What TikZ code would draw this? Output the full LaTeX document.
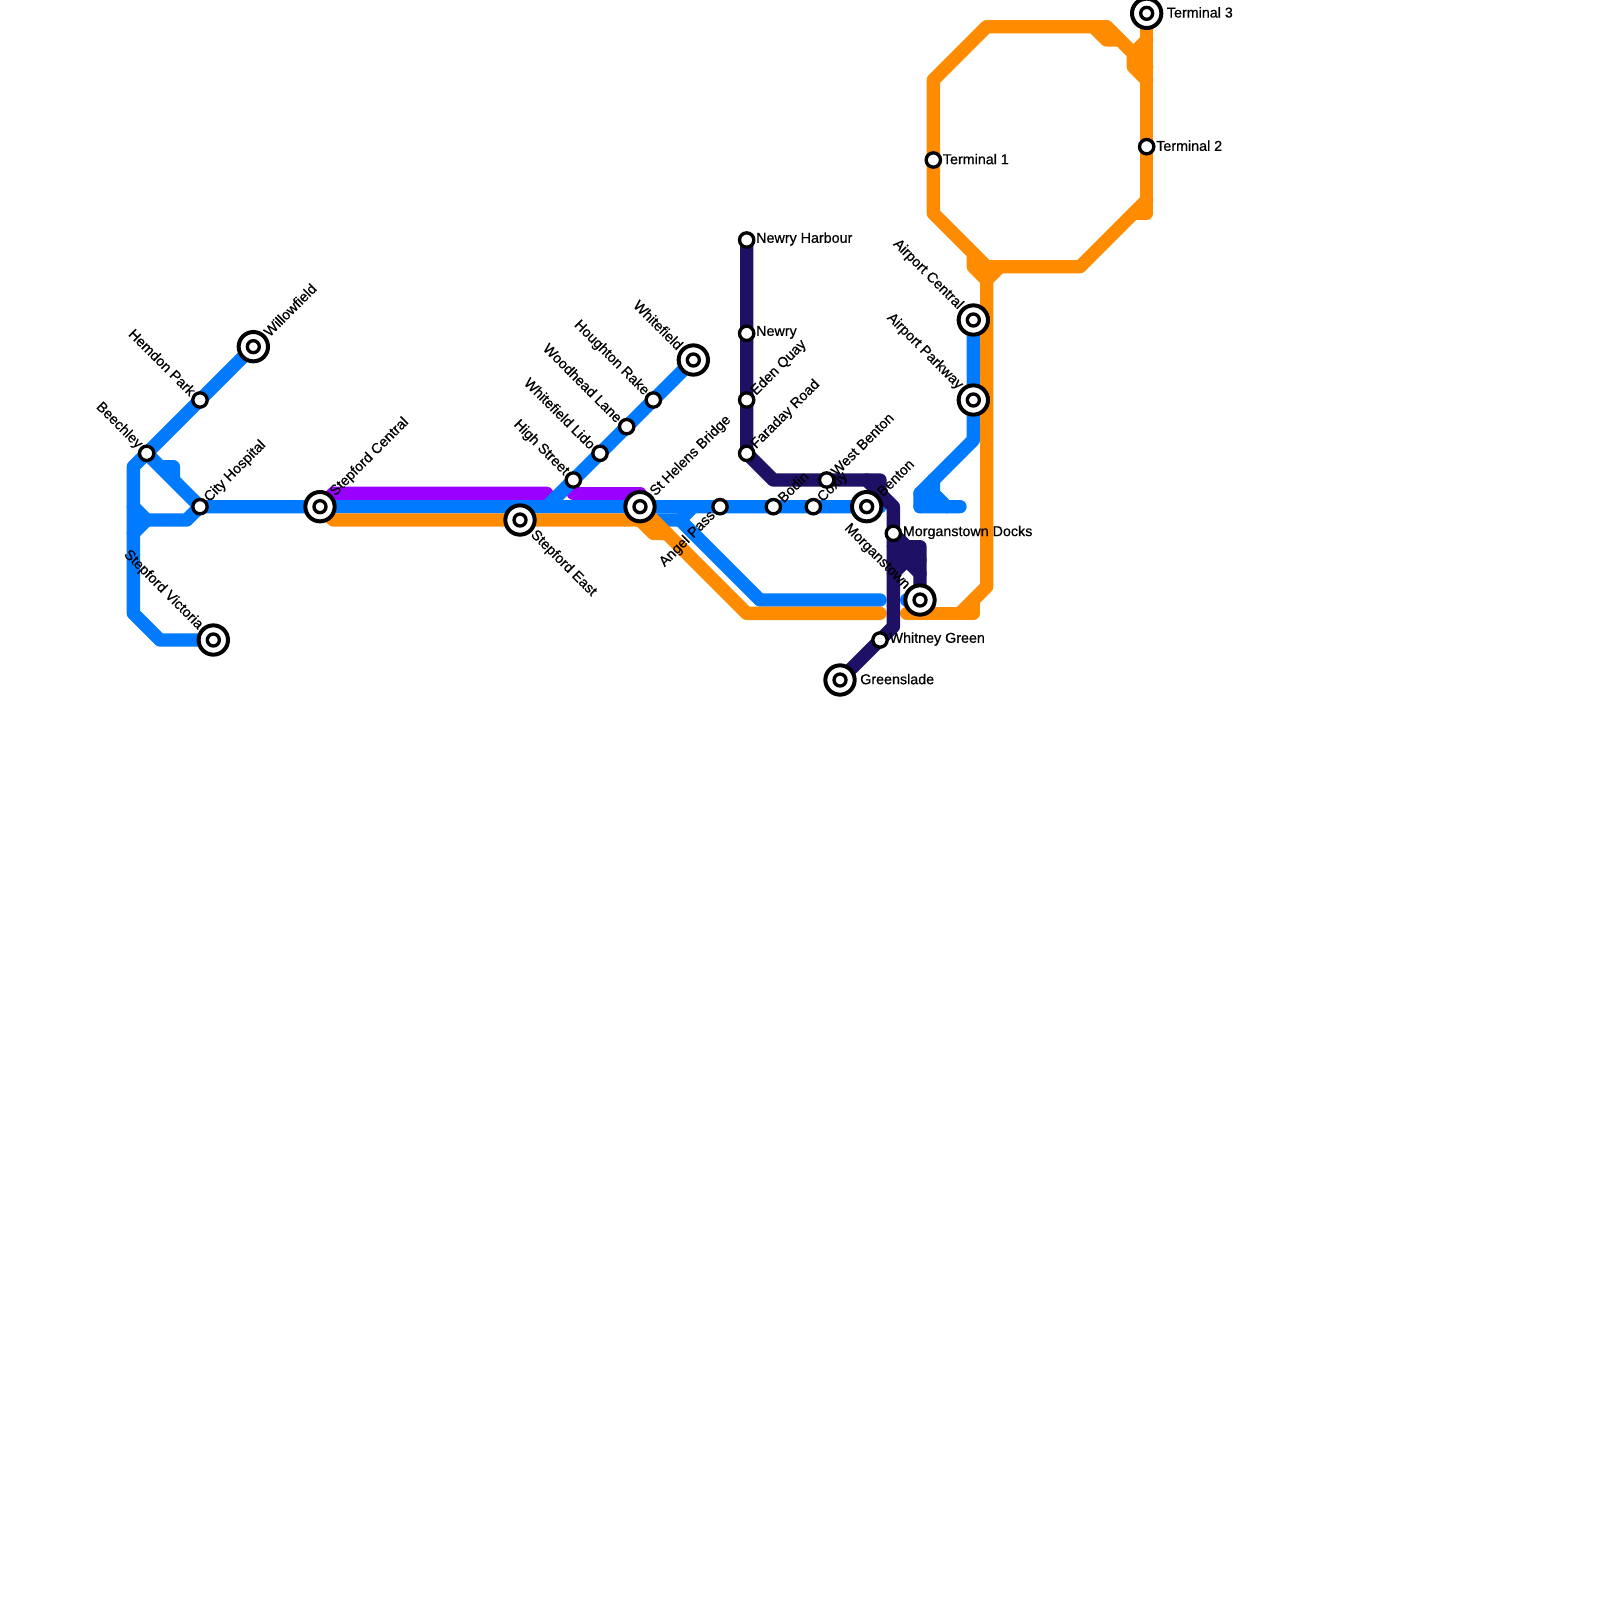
\documentclass[tikz,border=0pt]{standalone}
\usepackage{fontspec}
\setmainfont[RawFeature={embolden=0.6}]{Liberation Sans}
\usetikzlibrary{positioning}
\definecolor{lineblue}{RGB}{0,122,255}
\definecolor{lineorange}{RGB}{255,140,0}
\definecolor{linepurple}{RGB}{153,0,255}
\definecolor{lineindigo}{RGB}{30,16,100}
\tikzset{
  metro/.style={line width=4mm,line join=round,line cap=round},
  stn/.style={circle,draw=black,fill=white,line width=1mm,minimum size=4.3mm,inner sep=0pt},
  hub/.style={circle,draw=black,fill=white,line width=1.2mm,minimum size=8.8mm,inner sep=0pt},
  hubin/.style={circle,draw=black,fill=white,line width=1mm,minimum size=3.6mm,inner sep=0pt},
  lbl/.style={font=\fontsize{12.2}{13}\selectfont,inner sep=0pt,text=black},
  lblne/.style={lbl,shift={(#1,-#1)},rotate=45,anchor=west},
  lblne/.default=0.5,
  lblnw/.style={lbl,shift={(-#1,-#1)},rotate=-45,anchor=east},
  lblnw/.default=0.5,
  lblse/.style={lbl,shift={(#1,#1)},rotate=-45,anchor=west},
  lblsw/.style={lbl,shift={(-#1,#1)},rotate=45,anchor=east},
  lble/.style={lbl,shift={(#1,-0.07)},anchor=west},
  lble/.default=0.7
}
\begin{document}
\begin{tikzpicture}[x=0.4cm,y=-0.4cm]
  \useasboundingbox (0,0) rectangle (120,120);
  % purple pieces
  \draw[metro,linepurple] (24,38) -- (25,37) -- (41,37);
  \draw[metro,linepurple] (43,37) -- (48,37);
  % blue, west side
  \draw[metro,lineblue] (19,26) -- (10,35) -- (10,46) -- (12,48) -- (16,48);
  \draw[metro,lineblue] (13,36) -- (13,35) -- (12,35) -- (11,34) -- (15,38) -- (66,38);
  \draw[metro,lineblue] (10,38) -- (11,39) -- (14,39) -- (15,38);
  \draw[metro,lineblue] (10,40) -- (11,39);
  \draw[metro,lineblue] (52,27) -- (41,38);
  % blue, south branch
  \draw[metro,lineblue] (49,39) -- (51,39) -- (57,45) -- (66,45);
  \draw[metro,lineblue] (52,38) -- (51,39);
  \draw[metro,lineblue] (68,45) -- (69,45);
  % blue, airport spur
  \draw[metro,lineblue] (73,24) -- (73,33) -- (69,37) -- (69,38) -- (72,38);
  \draw[metro,lineblue] (70,36) -- (70,37) -- (71,38);
  \draw[metro,lineblue] (69,38) -- (70,37) -- (69,37);
  % orange
  \draw[metro,lineorange] (24,38) -- (25,39) -- (48,39) -- (49,40) -- (50,40);
  \draw[metro,lineorange] (48,38) -- (56,46) -- (66,46);
  \draw[metro,lineorange] (68,46) -- (73,46) -- (73,45);
  \draw[metro,lineorange] (72,46) -- (74,44) -- (74,21) -- (73,20) -- (73,19);
  \draw[metro,lineorange] (74,21) -- (75,20);
  % orange loop
  \draw[metro,lineorange] (74,20) -- (81,20) -- (86,15);
  \draw[metro,lineorange] (85,16) -- (86,16) -- (86,1);
  \draw[metro,lineorange] (74,20) -- (70,16) -- (70,6) -- (74,2) -- (83,2) -- (86,5);
  \draw[metro,lineorange] (82,2) -- (83,3) -- (84,3);
  \draw[metro,lineorange] (86,3) -- (85,4) -- (85,5) -- (86,6);
  % indigo
  \draw[metro,lineindigo] (56,18) -- (56,34) -- (58,36) -- (66,36) -- (66,37);
  \draw[metro,lineindigo] (65,36) -- (67,38) -- (67,47) -- (63,51);
  \draw[metro,lineindigo] (67,40) -- (68,41) -- (69,41) -- (69,45);
  \draw[metro,lineindigo] (67,41) -- (68,41) -- (68,42) -- (67,42);
  \draw[metro,lineindigo] (68,42) -- (69,42);
  \draw[metro,lineindigo] (67,43) -- (68,42) -- (69,43);
  % plain stations
  \node[stn] (hemdon) at (15,30) {};
  \node[stn] (beechley) at (11,34) {};
  \node[stn] (cityhosp) at (15,38) {};
  \node[stn] (highst) at (43,36) {};
  \node[stn] (whitelido) at (45,34) {};
  \node[stn] (woodhead) at (47,32) {};
  \node[stn] (houghton) at (49,30) {};
  \node[stn] (angel) at (54,38) {};
  \node[stn] (bodin) at (58,38) {};
  \node[stn] (coxly) at (61,38) {};
  \node[stn] (westbenton) at (62,36) {};
  \node[stn] (faraday) at (56,34) {};
  \node[stn] (eden) at (56,30) {};
  \node[stn] (newry) at (56,25) {};
  \node[stn] (harbour) at (56,18) {};
  \node[stn] (docks) at (67,40) {};
  \node[stn] (whitney) at (66,48) {};
  \node[stn] (term1) at (70,12) {};
  \node[stn] (term2) at (86,11) {};
  % interchanges
  \node[hub] (willowfield) at (19,26) {}; \node[hubin] (willowfieldin) at (19,26) {};
  \node[hub] (central) at (24,38) {}; \node[hubin] (centralin) at (24,38) {};
  \node[hub] (victoria) at (16,48) {}; \node[hubin] (victoriain) at (16,48) {};
  \node[hub] (east) at (39,39) {}; \node[hubin] (eastin) at (39,39) {};
  \node[hub] (helens) at (48,38) {}; \node[hubin] (helensin) at (48,38) {};
  \node[hub] (whitefield) at (52,27) {}; \node[hubin] (whitefieldin) at (52,27) {};
  \node[hub] (benton) at (65,38) {}; \node[hubin] (bentonin) at (65,38) {};
  \node[hub] (morgan) at (69,45) {}; \node[hubin] (morganin) at (69,45) {};
  \node[hub] (greenslade) at (63,51) {}; \node[hubin] (greensladein) at (63,51) {};
  \node[hub] (airportc) at (73,24) {}; \node[hubin] (airportcin) at (73,24) {};
  \node[hub] (airportp) at (73,30) {}; \node[hubin] (airportpin) at (73,30) {};
  \node[hub] (term3) at (86,1) {}; \node[hubin] (term3in) at (86,1) {};
  % labels
  \node[lblne=0.95] (lwillowfield) at (willowfield) {Willowfield};
  \node[lblnw] (lhemdon) at (hemdon) {Hemdon Park};
  \node[lblnw] (lbeechley) at (beechley) {Beechley};
  \node[lblne] (lcityhosp) at (cityhosp) {City Hospital};
  \node[lblne=0.95] (lcentral) at (central) {Stepford Central};
  \node[lblnw=0.95] (lvictoria) at (victoria) {Stepford Victoria};
  \node[lblse=0.95] (least) at (east) {Stepford East};
  \node[lblnw] (lhighst) at (highst) {High Street};
  \node[lblnw] (lwhitelido) at (whitelido) {Whitefield Lido};
  \node[lblnw] (lwoodhead) at (woodhead) {Woodhead Lane};
  \node[lblnw] (lhoughton) at (houghton) {Houghton Rake};
  \node[lblnw=0.95] (lwhitefield) at (whitefield) {Whitefield};
  \node[lblne=0.95] (lhelens) at (helens) {St Helens Bridge};
  \node[lblsw=0.5] (langel) at (angel) {Angel Pass};
  \node[lblne] (lbodin) at (bodin) {Bodin};
  \node[lblne] (lcoxly) at (coxly) {Coxly};
  \node[lblne] (lwestbenton) at (westbenton) {West Benton};
  \node[lblne=0.95] (lbenton) at (benton) {Benton};
  \node[lblne] (lfaraday) at (faraday) {Faraday Road};
  \node[lblne] (leden) at (eden) {Eden Quay};
  \node[lble] (lnewry) at (newry) {Newry};
  \node[lble] (lharbour) at (harbour) {Newry Harbour};
  \node[lble] (ldocks) at (docks) {Morganstown Docks};
  \node[lblnw=0.95] (lmorgan) at (morgan) {Morganstown};
  \node[lble] (lwhitney) at (whitney) {Whitney Green};
  \node[lble=1.5] (lgreenslade) at (greenslade) {Greenslade};
  \node[lble] (lterm1) at (term1) {Terminal 1};
  \node[lble] (lterm2) at (term2) {Terminal 2};
  \node[lble=1.5] (lterm3) at (term3) {Terminal 3};
  \node[lblnw=0.95] (lairportc) at (airportc) {Airport Central};
  \node[lblnw=0.95] (lairportp) at (airportp) {Airport Parkway};
\end{tikzpicture}
\end{document}
